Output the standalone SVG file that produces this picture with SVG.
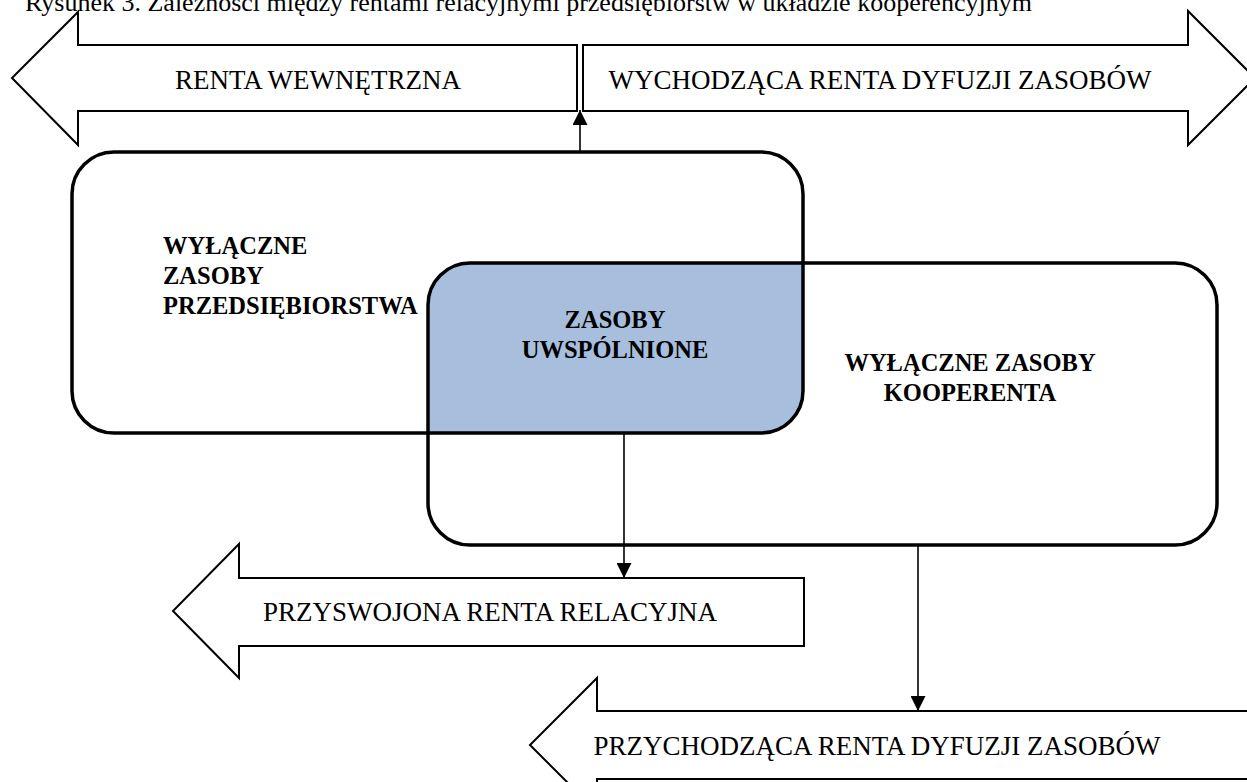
<svg xmlns="http://www.w3.org/2000/svg" width="1247" height="782" viewBox="0 0 1247 782">
  <style>
    .lbl { font-family: "Liberation Serif", "Times New Roman", serif; font-size: 27px; fill: #000; }
    .cap { font-family: "Liberation Serif", "Times New Roman", serif; font-size: 26px; fill: #000; }
    .bold { font-family: "Liberation Serif", "Times New Roman", serif; font-size: 24.5px; font-weight: bold; fill: #000; }
    .band { fill: #fff; stroke: #000; stroke-width: 2; stroke-linejoin: miter; }
    .box { fill: none; stroke: #000; stroke-width: 3.5; }
    .link { stroke: #000; stroke-width: 1.6; fill: none; }
  </style>
  <defs>
    <marker id="head" viewBox="0 0 10 10" refX="10" refY="5" markerWidth="15" markerHeight="15" markerUnits="userSpaceOnUse" orient="auto">
      <path d="M0,0 L10,5 L0,10 Z" fill="#000"/>
    </marker>
  </defs>

  <rect width="1247" height="782" fill="#fff"/>

  <text class="cap" x="25" y="11">Rysunek 3. Zależności między rentami relacyjnymi przedsiębiorstw w układzie kooperencyjnym</text>

  <!-- rent flows (block arrows) -->
  <g id="renta-wewnetrzna">
    <polygon class="band" points="577,45 78,45 78,12 12,78 78,145 78,111 577,111"/>
    <text class="lbl" x="318" y="89" text-anchor="middle">RENTA WEWNĘTRZNA</text>
  </g>
  <g id="renta-wychodzaca">
    <polygon class="band" points="583,45 1188,45 1188,11 1255,78 1188,145 1188,111 583,111"/>
    <text class="lbl" x="880" y="89" text-anchor="middle">WYCHODZĄCA RENTA DYFUZJI ZASOBÓW</text>
  </g>
  <g id="renta-przyswojona">
    <polygon class="band" points="804,578 239,578 239,544 173,611 239,678 239,646 804,646"/>
    <text class="lbl" x="490" y="621" text-anchor="middle">PRZYSWOJONA RENTA RELACYJNA</text>
  </g>
  <g id="renta-przychodzaca">
    <polygon class="band" points="1260,711 597,711 597,678 530,745 597,812 597,779 1260,779"/>
    <text class="lbl" x="877" y="755" text-anchor="middle">PRZYCHODZĄCA RENTA DYFUZJI ZASOBÓW</text>
  </g>

  <!-- shared resources: overlap of the two resource boxes -->
  <g id="zasoby-uwspolnione">
    <path d="M428,305 A42,42 0 0 1 470,263 L803,263 L803,391 A42,42 0 0 1 761,433 L428,433 Z" fill="#a7bfdd" stroke="#2c4c70" stroke-width="2"/>
    <text class="bold" x="615" y="328" text-anchor="middle">ZASOBY</text>
    <text class="bold" x="615" y="358" text-anchor="middle">UWSPÓLNIONE</text>
  </g>
  <g id="zasoby-przedsiebiorstwa">
    <rect class="box" x="72" y="152" width="731" height="281" rx="42" ry="42"/>
    <text class="bold" x="163" y="254">WYŁĄCZNE</text>
    <text class="bold" x="163" y="284">ZASOBY</text>
    <text class="bold" x="163" y="314">PRZEDSIĘBIORSTWA</text>
  </g>
  <g id="zasoby-kooperenta">
    <rect class="box" x="428" y="263" width="789" height="282" rx="42" ry="42"/>
    <text class="bold" x="970" y="371" text-anchor="middle">WYŁĄCZNE ZASOBY</text>
    <text class="bold" x="970" y="401" text-anchor="middle">KOOPERENTA</text>
  </g>

  <g id="connectors">
    <line class="link" x1="580" y1="151" x2="580" y2="110" marker-end="url(#head)"/>
    <line class="link" x1="624" y1="434" x2="624" y2="578" marker-end="url(#head)"/>
    <line class="link" x1="918" y1="546" x2="918" y2="711" marker-end="url(#head)"/>
  </g>
</svg>
